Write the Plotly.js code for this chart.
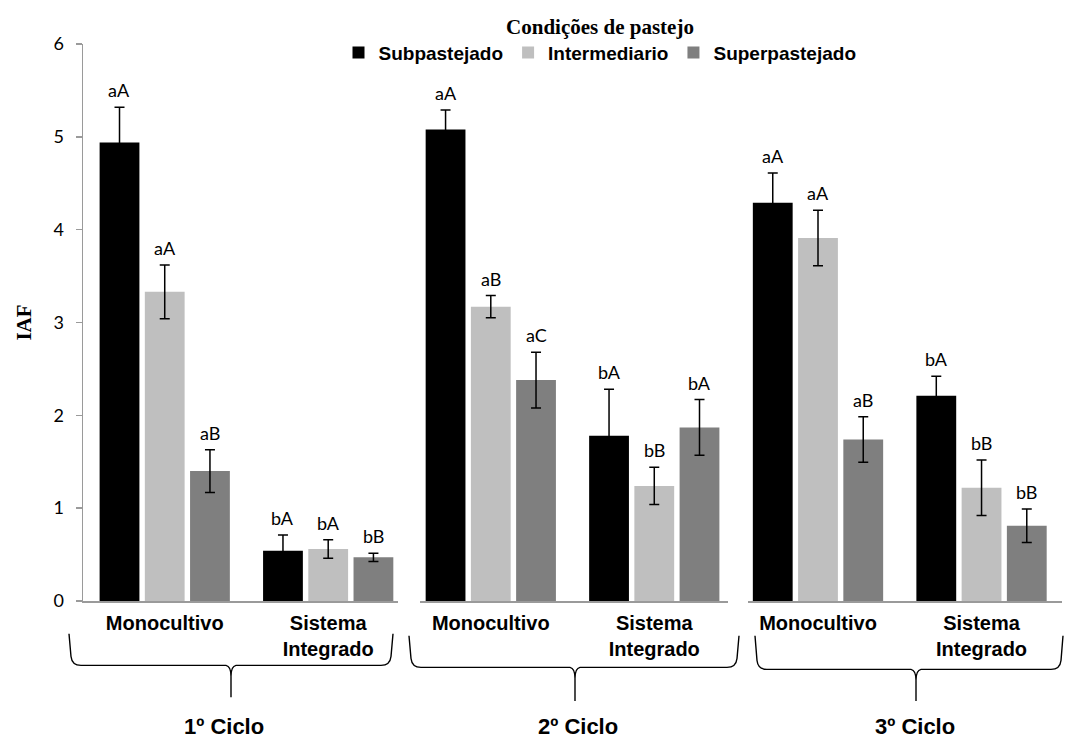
<!DOCTYPE html>
<html>
<head>
<meta charset="utf-8">
<script src="https://cdn.plot.ly/plotly-3.0.1.min.js"></script>
<style>html,body{margin:0;padding:0;background:#fff;}#chart{width:1068px;height:739px;}</style>
</head>
<body>
<div id="chart"></div>
<script>
// ---- data ----
const systems = ["Monocultivo", "Sistema<br>Integrado"];
const cycles = ["1º Ciclo", "2º Ciclo", "3º Ciclo"];
const conditions = ["Subpastejado", "Intermediario", "Superpastejado"];
// order: 1º mono, 1º SI, 2º mono, 2º SI, 3º mono, 3º SI
const subpastejado   = [4.94, 0.54, 5.08, 1.78, 4.29, 2.21];
const intermediario  = [3.33, 0.56, 3.17, 1.24, 3.91, 1.22];
const superpastejado = [1.40, 0.47, 2.38, 1.87, 1.74, 0.81];
const errSub = [0.38, 0.17, 0.21, 0.50, 0.32, 0.21];
const errInt = [0.29, 0.10, 0.12, 0.20, 0.30, 0.30];
const errSup = [0.23, 0.045, 0.30, 0.30, 0.245, 0.18];
const letrasSub = ["aA", "bA", "aA", "bA", "aA", "bA"];
const letrasInt = ["aA", "bA", "aB", "bB", "aA", "bB"];
const letrasSup = ["aB", "bB", "aC", "bA", "aB", "bB"];
const yTicks = [0, 1, 2, 3, 4, 5, 6];

// ---- layout helpers ----
const W = 1068, H = 739, ML = 83, MR = 6, MT = 39, MB = 138;
const PW = W - ML - MR, PH = H - MT - MB;
const fx = px => (px - ML) / PW;
const fy = py => (H - MB - py) / PH;

const colors = ["#000000", "#BFBFBF", "#7F7F7F"];
const series = [subpastejado, intermediario, superpastejado];
const errs = [errSub, errInt, errSup];
const letras = [letrasSub, letrasInt, letrasSup];
const axisIds = ["x", "x2", "x3"];
const domainsPx = [[83, 398], [420, 728], [748, 1062]];
const ranges = [[-0.5, 1.427], [-0.433, 1.451], [-0.428, 1.492]];
const BARGAP = 0.17, GROUPGAP = 0.12;
const unitPx = 163.5;
const slotPx = unitPx * (1 - BARGAP) / 3;

const traces = [];
const annotations = [];
for (let p = 0; p < 3; p++) {
  for (let c = 0; c < 3; c++) {
    const yv = series[c].slice(2 * p, 2 * p + 2);
    const ev = errs[c].slice(2 * p, 2 * p + 2);
    traces.push({
      type: "bar",
      name: conditions[c],
      x: systems,
      y: yv,
      xaxis: axisIds[p],
      yaxis: "y",
      marker: { color: colors[c] },
      error_y: { type: "data", array: ev, visible: true, color: "#000", thickness: 1.5, width: 5 },
      legendgroup: conditions[c],
      showlegend: p === 0,
      hoverinfo: "x+y"
    });
    for (let k = 0; k < 2; k++) {
      annotations.push({
        xref: axisIds[p], yref: "y",
        x: systems[k], y: yv[k] + ev[k],
        text: letras[c][2 * p + k],
        showarrow: false, xanchor: "center", yanchor: "bottom",
        xshift: (c - 1) * slotPx, yshift: 4,
        font: { family: "Lato, 'Open Sans', sans-serif", size: 18, color: "#000" }
      });
    }
  }
}

// cycle labels
const cycleCenters = [224, 578, 915];
cycles.forEach((t, i) => {
  annotations.push({
    xref: "paper", yref: "paper", x: fx(cycleCenters[i]), y: fy(728),
    text: t, showarrow: false, xanchor: "center", yanchor: "middle",
    font: { family: "'Liberation Sans', Arial, sans-serif", size: 22, color: "#000", weight: "bold" }
  });
});

// braces
function brace(x0, x1, xm, ytop, yh, ytip) {
  const r = 9;
  const P = (x, y) => fx(x).toFixed(5) + "," + fy(y).toFixed(5);
  return "M" + P(x0, ytop) +
    " L" + P(x0 + 2, yh - r) +
    " Q" + P(x0 + 3, yh) + " " + P(x0 + 3 + r, yh) +
    " L" + P(xm - 5, yh) +
    " Q" + P(xm, yh + 1) + " " + P(xm, yh + 11) +
    " L" + P(xm, ytip) +
    " M" + P(xm, yh + 11) +
    " Q" + P(xm, yh + 1) + " " + P(xm + 5, yh) +
    " L" + P(x1 - 3 - r, yh) +
    " Q" + P(x1 - 3, yh) + " " + P(x1 - 2, yh - r) +
    " L" + P(x1, ytop);
}
const braceParams = [
  [69, 393, 231, 634, 666, 698],
  [409, 739, 575, 636, 668, 702],
  [755, 1063, 916, 636, 670, 702]
];
const shapes = braceParams.map(b => ({
  type: "path", xref: "paper", yref: "paper",
  path: brace.apply(null, b),
  line: { color: "#000", width: 1.4 }
}));

const catFont = { family: "'Liberation Sans', Arial, sans-serif", size: 20, color: "#000", weight: "bold" };
const layout = {
  width: W, height: H,
  margin: { l: ML, r: MR, t: MT, b: MB },
  paper_bgcolor: "#fff", plot_bgcolor: "#fff",
  barmode: "group", bargap: BARGAP, bargroupgap: GROUPGAP,
  showlegend: true,
  legend: {
    orientation: "h", x: fx(600), xanchor: "center", y: fy(1), yanchor: "top",
    title: { text: "Condições de pastejo", side: "top center",
      font: { family: "'Liberation Serif', 'Times New Roman', serif", size: 21, color: "#000", weight: "bold" } },
    font: { family: "'Liberation Sans', Arial, sans-serif", size: 19, color: "#000", weight: "bold" },
    itemwidth: 30, tracegroupgap: 0, bgcolor: "rgba(0,0,0,0)"
  },
  yaxis: {
    range: [0, 6], tickvals: yTicks, ticktext: yTicks.map(String),
    showline: true, linecolor: "#9A9A9A", linewidth: 1.5,
    ticks: "outside", ticklen: 6, tickcolor: "#9A9A9A", tickwidth: 1.5,
    showgrid: false, zeroline: false, anchor: "x",
    ticklabelstandoff: 8,
    tickfont: { family: "Lato, 'Open Sans', sans-serif", size: 18, color: "#000" },
    title: { text: "IAF", standoff: 16,
      font: { family: "'Liberation Serif', 'Times New Roman', serif", size: 21, color: "#000", weight: "bold" } }
  },
  annotations: annotations,
  shapes: shapes
};
axisIds.forEach((id, i) => {
  const key = id === "x" ? "xaxis" : "xaxis" + id.slice(1);
  layout[key] = {
    domain: [fx(domainsPx[i][0]), fx(domainsPx[i][1])],
    range: ranges[i], type: "category", anchor: "y",
    showline: true, linecolor: "#9A9A9A", linewidth: 2,
    ticks: "", showgrid: false, zeroline: false,
    tickfont: catFont, ticklabelstandoff: 3
  };
});

Plotly.newPlot("chart", traces, layout, { displayModeBar: false, staticPlot: true });
</script>
</body>
</html>
